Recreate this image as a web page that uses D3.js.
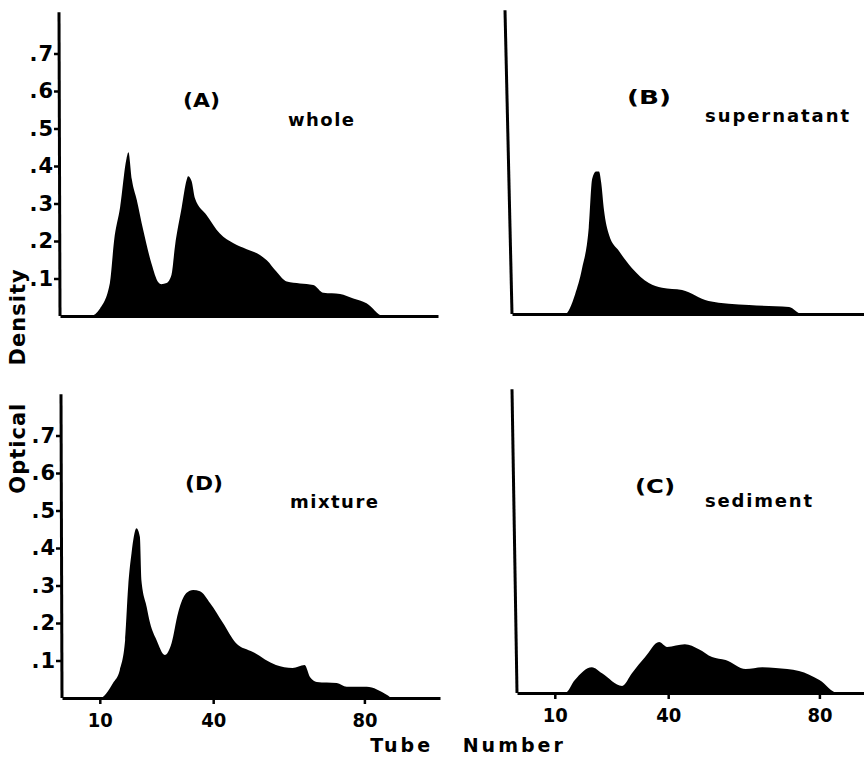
<!DOCTYPE html>
<html>
<head>
<meta charset="utf-8">
<script src="https://cdn.jsdelivr.net/npm/d3@7"></script>
<style>
	body { margin: 0; background: #fff; }
	svg { display: block; }
	text { font-family: "DejaVu Sans", sans-serif; font-weight: bold; fill: #000; }
</style>
</head>
<body>
<svg id="chart" width="864" height="759"></svg>
<script>
// tube number / optical density
var wholeTube = [0, 8, 10.6, 13.2, 14.3, 15.9, 17.6, 18.1, 19, 20.3, 22, 24.2, 26, 26.8, 28.2, 29.5, 30.4, 32.2, 33.5, 33.9, 34.8, 35.7, 38.8, 42.3, 45.9, 49.4, 52.9, 54.7, 57.3, 60, 63.5, 67, 69.7, 74.1, 77.6, 81.1, 85.5, 100];
var wholeOD   = [0, 0, 0.02, 0.088, 0.2, 0.29, 0.42, 0.437, 0.365, 0.31, 0.23, 0.14, 0.09, 0.085, 0.088, 0.11, 0.185, 0.29, 0.363, 0.373, 0.36, 0.314, 0.269, 0.22, 0.194, 0.178, 0.163, 0.149, 0.118, 0.092, 0.087, 0.083, 0.062, 0.059, 0.047, 0.034, 0, 0];

var superTube = [0, 14, 16.7, 18.5, 20.3, 21.2, 22.2, 23, 23.6, 24.3, 25.7, 28.3, 31.7, 36.2, 39.7, 45, 52, 62.7, 73.3, 76.7, 100];
var superOD   = [0, 0, 0.053, 0.12, 0.23, 0.36, 0.38, 0.38, 0.35, 0.28, 0.21, 0.168, 0.123, 0.083, 0.07, 0.064, 0.035, 0.024, 0.019, 0, 0];

var mixTube = [0, 10, 13.5, 15.3, 16.7, 17.5, 18.4, 19.7, 20.6, 21, 22.4, 23.3, 25, 27.2, 29, 30.7, 32.9, 34.7, 36.5, 39.2, 42.6, 46, 50.5, 56.6, 61, 64.2, 65.6, 67.4, 72.7, 75.3, 80.6, 86, 87.3, 100];
var mixOD   = [0, 0, 0.04, 0.075, 0.155, 0.296, 0.387, 0.453, 0.43, 0.315, 0.243, 0.2, 0.155, 0.115, 0.147, 0.227, 0.28, 0.288, 0.285, 0.253, 0.2, 0.147, 0.123, 0.088, 0.08, 0.088, 0.056, 0.043, 0.04, 0.03, 0.03, 0.008, 0, 0];

var sedTube = [0, 12.7, 15.3, 19.8, 22.5, 27.8, 30.4, 33.9, 37.6, 39.7, 44.4, 48.1, 51.6, 55.2, 60.5, 64.9, 68.4, 74.6, 80, 84.9, 100];
var sedOD   = [0, 0, 0.035, 0.069, 0.053, 0.019, 0.053, 0.096, 0.136, 0.123, 0.13, 0.117, 0.096, 0.088, 0.064, 0.069, 0.067, 0.059, 0.035, 0, 0];

var yTickValues = [0.1, 0.2, 0.3, 0.4, 0.5, 0.6, 0.7];
var xTickValues = [10, 40, 80];
var tubeDomain = [0, 100],
	odDomain = [0, 0.81];

var panels = [
	{tag: "(A)", name: "whole", tube: wholeTube, od: wholeOD, x0: 60, y0: 316, lean: -1,
		yTicks: true, xTicks: false, tagAt: [183, 107, 37], nameAt: [288, 126, 66]},
	{tag: "(B)", name: "supernatant", tube: superTube, od: superOD, x0: 512, y0: 314, lean: -7,
		yTicks: false, xTicks: false, tagAt: [627, 104, 44], nameAt: [705, 122, 144]},
	{tag: "(D)", name: "mixture", tube: mixTube, od: mixOD, x0: 62, y0: 698, lean: -1,
		yTicks: true, xTicks: true, tagAt: [185, 490, 38], nameAt: [290, 508, 88]},
	{tag: "(C)", name: "sediment", tube: sedTube, od: sedOD, x0: 517, y0: 693, lean: -5,
		yTicks: false, xTicks: true, tagAt: [635, 493, 40], nameAt: [705, 507, 107]}
];

var pxPerTube = 3.78,
	pxPerOD = 375;

var svg = d3.select("#chart");

panels.forEach(function(p){
	var x = d3.scaleLinear()
			.domain(tubeDomain)
			.range([p.x0, p.x0 + (tubeDomain[1] - tubeDomain[0]) * pxPerTube]),
		y = d3.scaleLinear()
			.domain(odDomain)
			.range([p.y0, p.y0 - (odDomain[1] - odDomain[0]) * pxPerOD]);

	var g = svg.append("g").attr("class", "panel");

	var area = d3.area()
		.x(function(d) { return x(d[0]); })
		.y0(y(0))
		.y1(function(d) { return y(d[1]); })
		.curve(d3.curveMonotoneX);

	g.append("path")
		.datum(p.tube.map(function(t, i) { return [t, p.od[i]]; }))
		.attr("fill", "#000")
		.attr("d", area);

	// x axis
	var xa = g.append("g")
		.attr("transform", "translate(0," + p.y0 + ")")
		.call(d3.axisBottom(x)
			.tickValues(p.xTicks ? xTickValues : [])
			.tickSize(6)
			.tickSizeOuter(0)
			.tickPadding(9))
		.attr("font-family", "'DejaVu Sans Condensed', 'DejaVu Sans', sans-serif")
		.attr("font-size", 20)
		.attr("font-weight", "bold");
	xa.select(".domain").attr("stroke-width", 3);
	xa.selectAll(".tick line").attr("stroke-width", 2.5);
	xa.selectAll(".tick text").attr("font-stretch", "condensed");

	// y axis
	var ya = g.append("g")
		.attr("transform", "translate(" + p.x0 + ",0)")
		.call(d3.axisLeft(y)
			.tickValues(p.yTicks ? yTickValues : [])
			.tickSize(6)
			.tickSizeOuter(0)
			.tickPadding(0)
			.tickFormat(function(d) { return d3.format(".1f")(d).replace(/^0/, ""); }))
		.attr("font-size", 21)
		.attr("font-weight", "bold");
	ya.select(".domain")
		.attr("stroke-width", 3)
		.attr("d", "M0," + y(0) + "L" + p.lean + "," + y(odDomain[1]));
	ya.selectAll(".tick line").attr("stroke-width", 2.5);
	ya.selectAll(".tick text")
		.attr("font-family", "'DejaVu Sans Condensed', 'DejaVu Sans', sans-serif")
		.attr("letter-spacing", 1);

	g.append("text")
		.attr("x", p.tagAt[0])
		.attr("y", p.tagAt[1])
		.attr("font-size", 20)
		.attr("textLength", p.tagAt[2])
		.attr("lengthAdjust", "spacingAndGlyphs")
		.text(p.tag);

	g.append("text")
		.attr("x", p.nameAt[0])
		.attr("y", p.nameAt[1])
		.attr("font-size", 18)
		.attr("textLength", p.nameAt[2])
		.attr("lengthAdjust", "spacing")
		.text(p.name);
});

svg.append("text")
	.attr("transform", "translate(25,381) rotate(-90)")
	.attr("text-anchor", "middle")
	.attr("font-size", 21)
	.attr("letter-spacing", 1)
	.attr("word-spacing", 29)
	.text("Optical Density");

svg.append("text")
	.attr("x", 468)
	.attr("y", 752)
	.attr("text-anchor", "middle")
	.attr("font-size", 19)
	.attr("letter-spacing", 3)
	.attr("word-spacing", 20)
	.text("Tube Number");
</script>
</body>
</html>
